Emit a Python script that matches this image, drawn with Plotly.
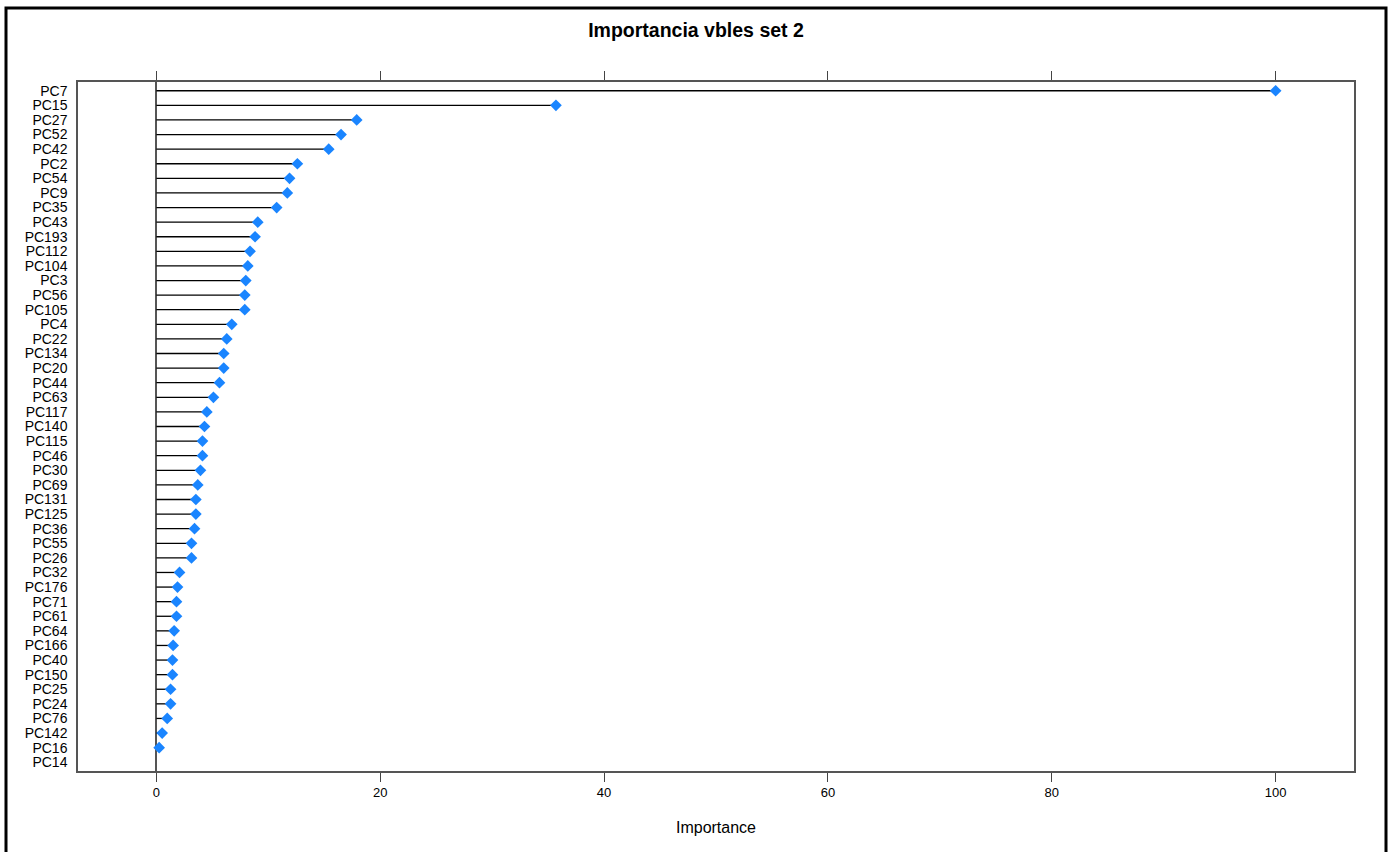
import plotly.graph_objects as go

# Variable importance (scaled 0-100), ordered from most to least important
variables = [
    "PC7", "PC15", "PC27", "PC52", "PC42", "PC2", "PC54", "PC9", "PC35", "PC43",
    "PC193", "PC112", "PC104", "PC3", "PC56", "PC105", "PC4", "PC22", "PC134", "PC20",
    "PC44", "PC63", "PC117", "PC140", "PC115", "PC46", "PC30", "PC69", "PC131", "PC125",
    "PC36", "PC55", "PC26", "PC32", "PC176", "PC71", "PC61", "PC64", "PC166", "PC40",
    "PC150", "PC25", "PC24", "PC76", "PC142", "PC16", "PC14",
]
importance = [
    100.0, 35.7, 17.9, 16.5, 15.4, 12.6, 11.9, 11.7, 10.75, 9.06,
    8.82, 8.37, 8.17, 7.99, 7.90, 7.90, 6.74, 6.29, 6.02, 6.02,
    5.64, 5.10, 4.51, 4.30, 4.12, 4.12, 3.94, 3.70, 3.53, 3.53,
    3.41, 3.14, 3.14, 2.07, 1.89, 1.80, 1.80, 1.59, 1.50, 1.44,
    1.44, 1.27, 1.27, 0.97, 0.52, 0.25, 0.0,
]
x_ticks = [0, 20, 40, 60, 80, 100]

FONT = "Liberation Sans Narrow, Arial Narrow, Liberation Sans, Arial, sans-serif"

# Stems from zero to each value
stem_x, stem_y = [], []
for name, v in zip(variables, importance):
    stem_x += [0, v, None]
    stem_y += [name, name, None]

# Zero-importance variables get no dot
dot_opacity = [1 if v > 0 else 0 for v in importance]

fig = go.Figure()
fig.add_trace(go.Scatter(
    x=stem_x, y=stem_y, mode="lines",
    line=dict(color="black", width=1.3),
    hoverinfo="skip", showlegend=False,
))
fig.add_trace(go.Scatter(
    x=importance, y=variables, mode="markers",
    marker=dict(symbol="diamond", color="#1a85ff", size=9,
                opacity=dot_opacity, line=dict(width=0)),
    showlegend=False,
))

n = len(variables)
fig.update_layout(
    width=1392, height=852,
    margin=dict(l=78, r=38, t=82, b=81),
    paper_bgcolor="white", plot_bgcolor="white",
    font=dict(family=FONT, size=14, color="black"),
    title=dict(
        text="<b>Importancia vbles set 2</b>",
        x=0.5, xref="container", xanchor="center",
        y=1 - 30 / 852, yref="container", yanchor="middle",
        font=dict(family=FONT, size=19.5, color="black"),
    ),
    xaxis=dict(
        range=[-7, 107], tickmode="array", tickvals=x_ticks,
        ticktext=[str(t) for t in x_ticks],
        showgrid=False, zeroline=True, zerolinecolor="#555555", zerolinewidth=1.5,
        showline=True, linecolor="#555555", linewidth=1.5, mirror="ticks",
        ticks="outside", ticklen=9, tickwidth=1.3, tickcolor="#444444",
        tickfont=dict(family=FONT, size=13, color="black"),
        title=dict(text="Importance", standoff=22,
                   font=dict(family=FONT, size=16, color="black")),
    ),
    yaxis=dict(
        type="category", categoryorder="array", categoryarray=variables,
        tickmode="array", tickvals=variables, ticktext=variables,
        range=[n - 1 + 0.6, -0.6],
        showgrid=False, zeroline=False,
        showline=True, linecolor="#555555", linewidth=1.5, mirror=True,
        ticks="", ticklabelstandoff=6,
        tickfont=dict(family=FONT, size=14, color="black"),
    ),
    shapes=[dict(
        type="rect", xref="paper", yref="paper",
        x0=(6 - 78) / 1276, x1=(1386 - 78) / 1276,
        y0=(771 - 860) / 689, y1=(771 - 8) / 689,
        line=dict(color="black", width=3), fillcolor="rgba(0,0,0,0)",
        layer="above",
    )],
)

fig.write_html("out.html")
